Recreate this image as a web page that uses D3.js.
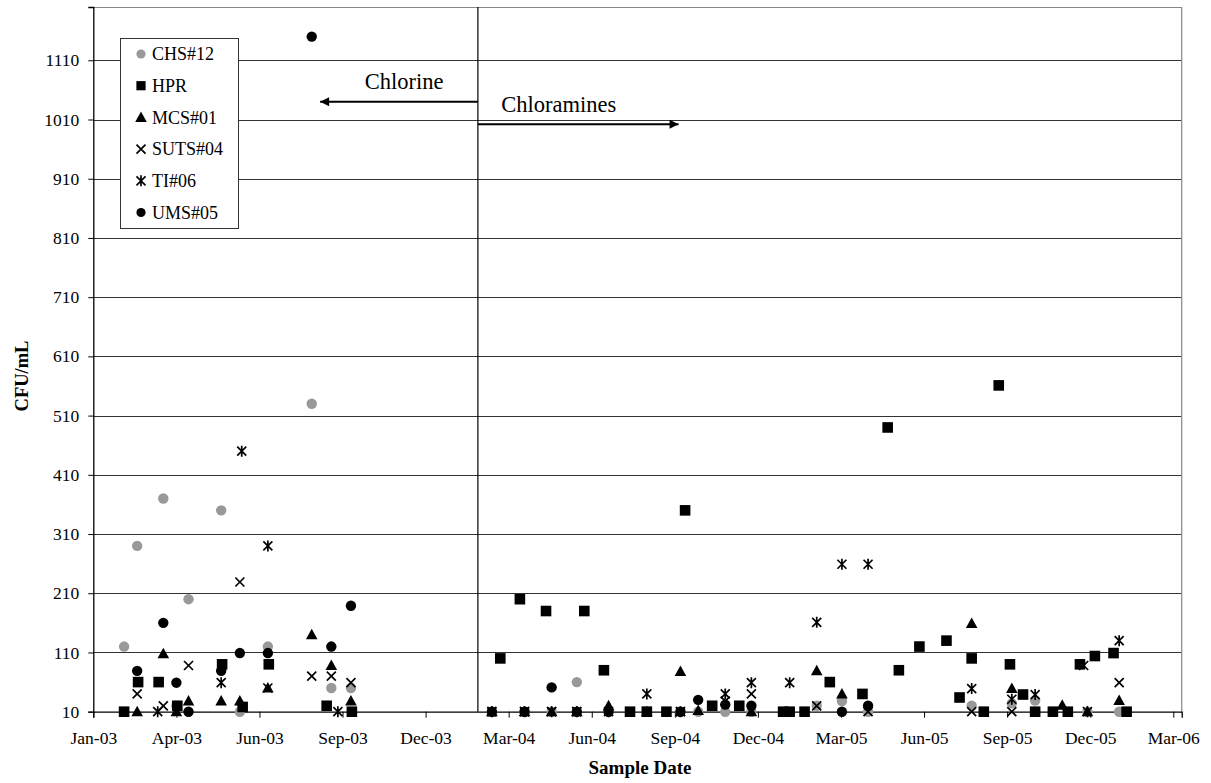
<!DOCTYPE html>
<html>
<head>
<meta charset="utf-8">
<script src="https://cdn.jsdelivr.net/npm/d3@7"></script>
<style>
  html, body { margin: 0; padding: 0; background: #fff; }
  svg { display: block; font-family: "Liberation Serif", "Times New Roman", serif; }
</style>
</head>
<body>
<svg id="chart" width="1211" height="783"></svg>
<script>
// ---------------- DATA ----------------
const seriesNames = ["CHS#12", "HPR", "MCS#01", "SUTS#04", "TI#06", "UMS#05"];

const chs12 = [
  ["2003-02-04",120],["2003-02-18",290],["2003-03-18",370],["2003-04-01",20],["2003-04-14",200],
  ["2003-05-19",350],["2003-06-08",10],["2003-07-08",120],["2003-08-24",530],["2003-09-14",50],
  ["2003-10-05",50],
  ["2004-03-04",10],["2004-04-08",10],["2004-05-07",10],["2004-06-03",60],["2004-07-07",10],
  ["2004-08-17",10],["2004-09-22",10],["2004-10-11",10],["2004-11-09",10],["2004-12-07",10],
  ["2005-02-15",20],["2005-03-14",28],["2005-04-11",10],["2005-07-31",20],["2005-09-12",24],
  ["2005-10-07",29],["2005-12-02",10],["2006-01-05",10]
];
const hpr = [
  ["2003-02-04",10],["2003-02-19",60],["2003-03-13",60],["2003-04-02",20],["2003-05-20",90],
  ["2003-06-11",18],["2003-07-09",90],["2003-09-09",20],["2003-10-06",10],
  ["2004-03-13",100],["2004-04-03",200],["2004-05-01",180],["2004-06-11",180],["2004-07-02",80],
  ["2004-07-30",10],["2004-08-17",10],["2004-09-07",10],["2004-09-27",350],["2004-10-26",20],
  ["2004-11-24",20],["2005-01-10",10],["2005-01-17",10],["2005-02-02",10],["2005-03-01",60],
  ["2005-04-05",40],["2005-05-02",490],["2005-05-14",80],["2005-06-05",120],["2005-07-04",130],
  ["2005-07-18",34],["2005-07-31",100],["2005-08-13",10],["2005-08-29",561],["2005-09-10",90],
  ["2005-09-24",39],["2005-10-07",10],["2005-10-26",10],["2005-11-11",10],["2005-11-24",90],
  ["2005-12-10",104],["2005-12-30",109],["2006-01-13",10]
];
const mcs01 = [
  ["2003-02-18",10],["2003-03-18",108],["2003-04-01",10],["2003-04-14",28],["2003-05-19",28],
  ["2003-06-08",28],["2003-07-08",50],["2003-08-24",140],["2003-09-14",88],["2003-10-05",28],
  ["2004-03-04",10],["2004-04-08",10],["2004-05-07",10],["2004-06-03",10],["2004-07-07",20],
  ["2004-08-17",10],["2004-09-22",78],["2004-10-11",12],["2004-12-07",10],["2005-02-15",79],
  ["2005-03-14",40],["2005-07-31",159],["2005-09-12",49],["2005-11-05",21],["2005-12-02",10],
  ["2006-01-05",29]
];
const suts04 = [
  ["2003-02-18",40],["2003-03-18",20],["2003-04-14",88],["2003-06-08",229],["2003-07-08",50],
  ["2003-08-24",70],["2003-09-14",70],["2003-10-05",59],
  ["2004-03-04",10],["2004-04-08",10],["2004-05-07",10],["2004-06-03",10],["2004-08-17",10],
  ["2004-09-22",10],["2004-11-09",28],["2004-12-07",40],["2005-02-15",20],["2005-04-11",10],
  ["2005-07-31",10],["2005-09-12",10],["2005-11-28",88],["2006-01-05",59]
];
const ti06 = [
  ["2003-03-12",10],["2003-05-19",59],["2003-06-10",450],["2003-07-08",290],["2003-09-21",10],
  ["2004-03-04",10],["2004-04-08",10],["2004-05-07",10],["2004-06-03",10],["2004-07-07",10],
  ["2004-08-17",40],["2004-09-22",10],["2004-11-09",40],["2004-12-07",59],["2005-01-17",59],
  ["2005-02-15",161],["2005-03-14",259],["2005-04-11",259],["2005-07-31",49],["2005-09-12",31],
  ["2005-10-07",39],["2005-12-02",10],["2006-01-05",130]
];
const ums05 = [
  ["2003-02-18",79],["2003-03-18",160],["2003-04-01",59],["2003-04-14",10],["2003-05-19",79],
  ["2003-06-08",109],["2003-07-08",109],["2003-08-24",1150],["2003-09-14",120],["2003-10-05",189],
  ["2004-03-04",10],["2004-04-08",10],["2004-05-07",51],["2004-06-03",10],["2004-07-07",10],
  ["2004-09-22",10],["2004-10-11",30],["2004-11-09",22],["2004-12-07",20],["2005-03-14",10],
  ["2005-04-11",20]
];

const yTickValues = [10,110,210,310,410,510,610,710,810,910,1010,1110];
const xAxisStart = "2003-01-02";   // first tick (Jan-03)
const xTickStepDays = 89;
const xTickCount = 14;             // Jan-03 ... Mar-06
const xAxisSpanDays = 1166;
const yMin = 10, yMax = 1200;

const changeoverDate = "2004-02-18";
const chlorineArrow = { fromDate: "2004-02-18", toDate: "2003-09-02", value: 1040 };
const chloramineArrow = { fromDate: "2004-02-18", toDate: "2004-09-20", value: 1002 };
const chlorineLabel = { text: "Chlorine", date: "2003-12-01", value: 1061 };
const chloramineLabel = { text: "Chloramines", date: "2004-03-14", value: 1023 };

const xTitle = "Sample Date";
const yTitle = "CFU/mL";

// ---------------- CHART ----------------
const parse = d3.utcParse("%Y-%m-%d");
const svg = d3.select("#chart");

const plot = { left: 93.3, right: 1181.7, top: 7, bottom: 711.7 };

const d0 = parse(xAxisStart);
const x = d3.scaleUtc()
  .domain([d0, d3.utcDay.offset(d0, xAxisSpanDays)])
  .range([plot.left, plot.right]);
const y = d3.scaleLinear().domain([yMin, yMax]).range([plot.bottom, plot.top]);

const xTicks = d3.range(xTickCount).map(k => d3.utcDay.offset(d0, k * xTickStepDays));

// gridlines
svg.append("g").selectAll("line")
  .data(yTickValues.filter(v => v > yMin))
  .join("line")
  .attr("x1", plot.left).attr("x2", plot.right)
  .attr("y1", d => Math.round(y(d)) + 0.5).attr("y2", d => Math.round(y(d)) + 0.5)
  .attr("stroke", "#333").attr("stroke-width", 1);

// plot border (top / right)
svg.append("path")
  .attr("d", `M${plot.left},${Math.round(plot.top)+0.5}H${plot.right}V${plot.bottom}`)
  .attr("fill", "none").attr("stroke", "#888").attr("stroke-width", 1.2);

// Y axis
const yAxis = d3.axisLeft(y).tickValues(yTickValues).tickSize(5).tickPadding(9).tickFormat(d3.format("d"));
const gy = svg.append("g").attr("transform", `translate(${plot.left},0)`).call(yAxis)
  .attr("font-family", null).attr("font-size", null);
gy.select(".domain").attr("stroke", "#000").attr("stroke-width", 1.3);
gy.selectAll(".tick line").attr("stroke", "#000");
gy.selectAll(".tick text").attr("font-size", 17.5).attr("fill", "#000");

// X axis
const xAxis = d3.axisBottom(x).tickValues(xTicks).tickSize(6).tickPadding(14)
  .tickFormat(d3.utcFormat("%b-%y"));
const gx = svg.append("g").attr("transform", `translate(0,${plot.bottom})`).call(xAxis)
  .attr("font-family", null).attr("font-size", null);
gx.select(".domain").attr("stroke", "#000").attr("stroke-width", 1.3);
gx.selectAll(".tick line").attr("stroke", "#000");
gx.selectAll(".tick text").attr("font-size", 17.5).attr("fill", "#000");

// axis titles
svg.append("text").attr("x", 640).attr("y", 774)
  .attr("text-anchor", "middle").attr("font-weight", "bold").attr("font-size", 19).text(xTitle);
svg.append("text").attr("transform", `translate(28,376) rotate(-90)`)
  .attr("text-anchor", "middle").attr("font-weight", "bold").attr("font-size", 18.5).text(yTitle);

// changeover line
svg.append("line")
  .attr("x1", x(parse(changeoverDate))).attr("x2", x(parse(changeoverDate)))
  .attr("y1", plot.top).attr("y2", plot.bottom)
  .attr("stroke", "#000").attr("stroke-width", 1.2);

// arrows
const defs = svg.append("defs");
defs.append("marker").attr("id", "arrowhead")
  .attr("viewBox", "0 0 10 10").attr("refX", 10).attr("refY", 5)
  .attr("markerWidth", 11).attr("markerHeight", 9).attr("markerUnits", "userSpaceOnUse")
  .attr("orient", "auto")
  .append("path").attr("d", "M0,0L10,5L0,10Z").attr("fill", "#000");

[chlorineArrow, chloramineArrow].forEach(a => {
  svg.append("line")
    .attr("x1", x(parse(a.fromDate))).attr("x2", x(parse(a.toDate)))
    .attr("y1", y(a.value)).attr("y2", y(a.value))
    .attr("stroke", "#000").attr("stroke-width", 1.8)
    .attr("marker-end", "url(#arrowhead)");
});
svg.append("text").attr("x", x(parse(chlorineLabel.date))).attr("y", y(chlorineLabel.value))
  .attr("text-anchor", "middle").attr("font-size", 22.5).text(chlorineLabel.text);
svg.append("text").attr("x", x(parse(chloramineLabel.date))).attr("y", y(chloramineLabel.value))
  .attr("text-anchor", "start").attr("font-size", 22.5).text(chloramineLabel.text);

// marker shapes
const shapes = {
  circle: g => g.append("circle").attr("r", 5.2),
  square: g => g.append("rect").attr("x", -5.3).attr("y", -5.3).attr("width", 10.6).attr("height", 10.6),
  triangle: g => g.append("path").attr("d", "M0,-6L5.8,4.5L-5.8,4.5Z"),
  x: g => g.append("path").attr("d", "M-4.5,-4.5L4.5,4.5M-4.5,4.5L4.5,-4.5").attr("fill", "none").attr("stroke-width", 1.7),
  star: g => g.append("path").attr("d", "M-4.5,-4.5L4.5,4.5M-4.5,4.5L4.5,-4.5M0,-5.5L0,5.5").attr("fill", "none").attr("stroke-width", 1.7)
};

const series = [
  { name: seriesNames[0], data: chs12, shape: "circle", color: "#999999" },
  { name: seriesNames[1], data: hpr, shape: "square", color: "#000" },
  { name: seriesNames[2], data: mcs01, shape: "triangle", color: "#000" },
  { name: seriesNames[3], data: suts04, shape: "x", color: "#000" },
  { name: seriesNames[4], data: ti06, shape: "star", color: "#000" },
  { name: seriesNames[5], data: ums05, shape: "circle", color: "#000" }
];

series.forEach(s => {
  const g = svg.append("g").attr("fill", s.color).attr("stroke", s.color);
  s.data.forEach(([dt, v]) => {
    const m = g.append("g").attr("transform", `translate(${x(parse(dt))},${y(v)})`);
    const el = shapes[s.shape](m);
    if (s.shape === "circle" || s.shape === "square" || s.shape === "triangle") el.attr("stroke", "none");
  });
});

// legend
const lg = svg.append("g").attr("transform", "translate(120,38)");
lg.append("rect").attr("x", 0.5).attr("y", 0.5).attr("width", 118).attr("height", 190)
  .attr("fill", "#fff").attr("stroke", "#333").attr("stroke-width", 1);
series.forEach((s, i) => {
  const cy = 16 + i * 31.7;
  const m = lg.append("g").attr("transform", `translate(21,${cy})`)
    .attr("fill", s.color).attr("stroke", s.color);
  const el = shapes[s.shape](m);
  if (s.shape === "circle" || s.shape === "square" || s.shape === "triangle") el.attr("stroke", "none");
  if (s.shape === "circle") el.attr("r", 4.6);
  if (s.shape === "square") el.attr("x", -4.6).attr("y", -4.6).attr("width", 9.2).attr("height", 9.2);
  lg.append("text").attr("x", 32).attr("y", cy).attr("dy", "0.35em")
    .attr("font-size", 18).text(s.name);
});
</script>
</body>
</html>
